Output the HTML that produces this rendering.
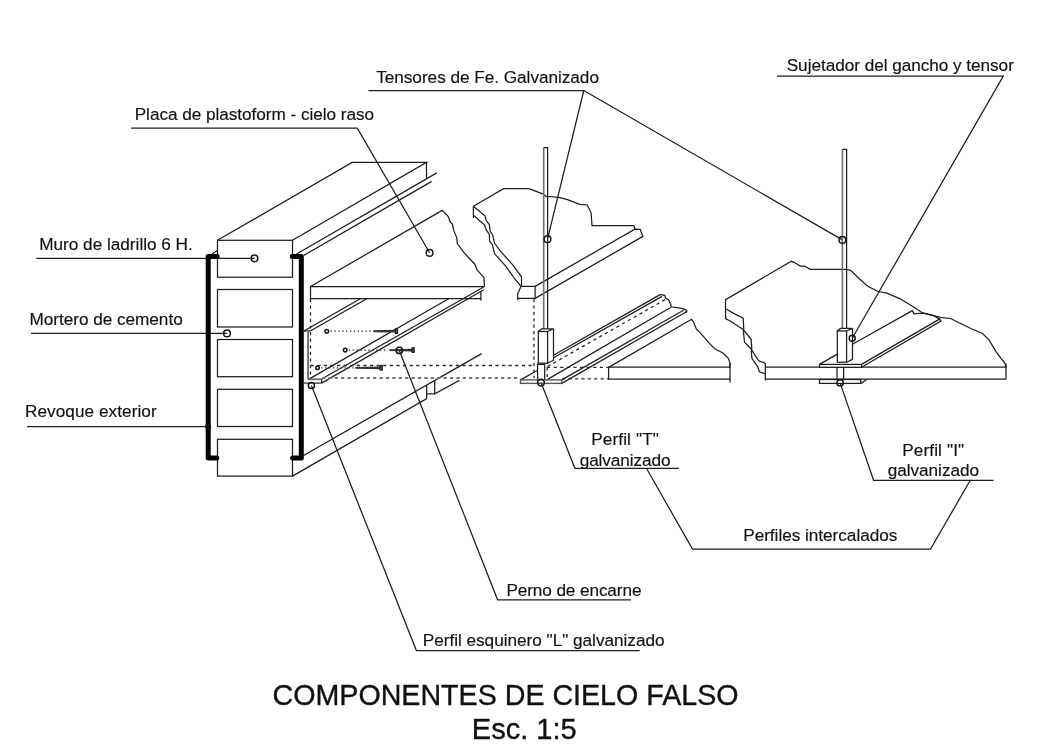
<!DOCTYPE html>
<html><head><meta charset="utf-8"><style>
html,body{margin:0;padding:0;background:#fff;width:1061px;height:746px;overflow:hidden}
svg{display:block;will-change:transform}
text{font-family:"Liberation Sans",sans-serif;fill:#111}
.l{fill:none;stroke:#1e1e1e;stroke-width:1.25;stroke-linejoin:miter}
.g{fill:none;stroke:#6a6a6a;stroke-width:1.8}
.d{fill:none;stroke:#2a2a2a;stroke-width:1.3;stroke-dasharray:3.2 3.4}
.dg{fill:none;stroke:#707070;stroke-width:2;stroke-dasharray:3.2 3.2}
.dt{fill:none;stroke:#333;stroke-width:1.3;stroke-dasharray:1.4 2.5}
.th{fill:none;stroke:#000;stroke-width:5;stroke-linecap:round;stroke-linejoin:round}
.c{fill:none;stroke:#161616;stroke-width:1.5}
</style></head><body>
<svg width="1061" height="746" viewBox="0 0 1061 746">
<rect width="1061" height="746" fill="#fff"/>

<!-- ===== TEXT ===== -->
<g font-size="17.2" stroke="#111" stroke-width="0.15">
<text x="376.2" y="82.7" textLength="222.76">Tensores de Fe. Galvanizado</text>
<text x="786.7" y="70.7" textLength="227.17">Sujetador del gancho y tensor</text>
<text x="134.7" y="120" textLength="239.4">Placa de plastoform - cielo raso</text>
<text x="39.2" y="250" textLength="153.61">Muro de ladrillo 6 H.</text>
<text x="29.4" y="325" textLength="153.3">Mortero de cemento</text>
<text x="24.9" y="417" textLength="131.8">Revoque exterior</text>
<text x="591.2" y="445" textLength="67.64">Perfil "T"</text>
<text x="579.7" y="466" textLength="90.75">galvanizado</text>
<text x="902.2" y="456.2" textLength="61.92">Perfil "I"</text>
<text x="887.7" y="476" textLength="91.35">galvanizado</text>
<text x="743.2" y="540.6" textLength="154.17">Perfiles intercalados</text>
<text x="506.4" y="596" textLength="135.06">Perno de encarne</text>
<text x="422.7" y="646" textLength="241.88">Perfil esquinero "L" galvanizado</text>
</g>
<text transform="translate(272.6,705) scale(0.977,1)" font-size="29.3" stroke="#111" stroke-width="0.35">COMPONENTES DE CIELO FALSO</text>
<text x="471.8" y="738.8" font-size="29" stroke="#111" stroke-width="0.35">Esc. 1:5</text>

<!-- ===== LEADERS ===== -->
<g class="l" stroke-width="1.15">
<polyline points="368.6,90.5 583.8,90.5 547.5,239.2"/>
<line x1="583.8" y1="90.5" x2="842.4" y2="239.9"/>
<polyline points="776.9,76.1 1003.3,76.1 852.2,338.3"/>
<polyline points="131.1,128.1 357.3,128.1 429.6,252.8"/>
<line x1="36.3" y1="258.3" x2="254.5" y2="258.3"/>
<line x1="31" y1="333.4" x2="227" y2="333.4"/>
<line x1="27" y1="426.7" x2="208.3" y2="426.7"/>
<polyline points="541,382.6 574.9,468.3 678.8,468.3"/>
<polyline points="646.4,468.3 692.5,549.1 930.5,549.1 970.3,480.3"/>
<polyline points="840.1,382.9 873.6,480.3 993.5,480.3"/>
<polyline points="399.3,350.4 497.6,599.8 631,599.8"/>
<polyline points="311.4,385.5 416.4,650.5 639.6,650.5"/>
</g>

<!-- ===== WALL ===== -->
<g class="l">
<rect x="217.5" y="240.3" width="75" height="36.9"/>
<rect x="217.5" y="289.5" width="75" height="37.5"/>
<rect x="217.5" y="339.5" width="75" height="37.2"/>
<rect x="217.5" y="389.3" width="75" height="37.2"/>
<rect x="217.5" y="439.3" width="75" height="36.8"/>
<polyline points="217.5,240.3 352.1,162.4 426.5,162.4 292.5,240.3"/>
<line x1="426.5" y1="162.4" x2="426.5" y2="178.5"/>
<line x1="296.1" y1="254.2" x2="436.8" y2="172.9"/>
<line x1="303.6" y1="255.5" x2="431.7" y2="181.4"/>
<line x1="212.1" y1="253.7" x2="217.5" y2="250.6"/>
<line x1="303.1" y1="455.7" x2="481.6" y2="353.6"/>
<polyline points="292.5,476.1 426.7,398.6 426.7,385.5"/>
<polyline points="426.7,393.9 434.7,393.9 434.7,381"/>
<line x1="434.7" y1="393.9" x2="459.6" y2="380.3"/>
</g>
<path class="th" d="M217.2,256.6 H208.2 V458 H216.8"/>
<path class="th" d="M292.2,256.6 H301.3 V458 H292.6"/>
<circle cx="208.1" cy="426.7" r="3" fill="#111"/>

<!-- ===== PLATE (placa) ===== -->
<g class="l">
<polyline points="483.7,286.5 310.5,286.5 310.5,298.7 480.9,298.7"/>
<line x1="480.9" y1="292" x2="480.9" y2="300.5"/>
<polyline points="310.5,286.5 442.2,210.4 448.3,216.5 450.1,221.9 452.5,224.3 453.7,230.4 456.7,237.6 457.3,243.6 464,252.7 474.8,264.2 477.3,270.2 483.9,277.4 484.5,287.1"/>
</g>
<line class="d" x1="310.5" y1="299" x2="310.5" y2="378"/>

<!-- ===== L PROFILE ===== -->
<g class="l">
<polyline points="303.9,331 310.3,331"/>
<line x1="303.9" y1="331" x2="360.3" y2="298.7"/>
<line x1="310.3" y1="331" x2="366.7" y2="298.7"/>
<line x1="308.1" y1="379.6" x2="448.6" y2="298.8"/>
<line x1="321.6" y1="379" x2="483.7" y2="287"/>
<line x1="321.6" y1="383.1" x2="483.7" y2="289.8"/>
<line x1="321.6" y1="379" x2="321.6" y2="383.1"/>
</g>
<g class="g">
<line x1="308.1" y1="332" x2="308.1" y2="379.6"/>
<line x1="304.1" y1="383.1" x2="321.6" y2="383.1"/>
<line x1="308.1" y1="379.3" x2="321.6" y2="379.3"/>
</g>

<!-- dashed horizontals -->
<polyline class="d" points="310.6,365.5 535,365.5"/>
<polyline class="d" points="547,367.3 608.6,367.3"/>
<polyline class="dg" points="322,378 520.6,378"/>
<polyline class="dg" points="562.2,378.8 608.6,378.8"/>

<!-- ===== BOLTS ===== -->
<g>
<circle class="c" cx="326.8" cy="331.2" r="1.8" stroke-width="1.3"/>
<line class="dt" x1="330.4" y1="331.2" x2="372" y2="331.2"/>
<polygon points="373.3,330.3 395.6,329.8 395.6,332.6 373.3,332.2" fill="#262626"/>
<line x1="373.3" y1="331.2" x2="395.6" y2="331.2" stroke="#888" stroke-width="0.6" stroke-dasharray="1.2 1.3"/>
<rect x="395.4" y="328.9" width="2.2" height="4.6" fill="#555" stroke="#1a1a1a" stroke-width="1.1"/>
<circle class="c" cx="345.2" cy="350.1" r="1.8" stroke-width="1.3"/>
<line class="dt" x1="348.8" y1="350.1" x2="388" y2="350.1"/>
<polygon points="389.4,349.2 412.2,348.7 412.2,351.5 389.4,351.1" fill="#262626"/>
<line x1="389.4" y1="350.1" x2="412.2" y2="350.1" stroke="#888" stroke-width="0.6" stroke-dasharray="1.2 1.3"/>
<rect x="412.0" y="347.8" width="2.2" height="4.6" fill="#555" stroke="#1a1a1a" stroke-width="1.1"/>
<circle class="c" cx="317.5" cy="367.8" r="1.8" stroke-width="1.3"/>
<line class="dt" x1="321.1" y1="367.8" x2="354" y2="367.8"/>
<polygon points="355.4,366.9 380.3,366.4 380.3,369.2 355.4,368.8" fill="#262626"/>
<line x1="355.4" y1="367.8" x2="380.3" y2="367.8" stroke="#888" stroke-width="0.6" stroke-dasharray="1.2 1.3"/>
<rect x="380.1" y="365.5" width="2.2" height="4.6" fill="#555" stroke="#1a1a1a" stroke-width="1.1"/>
</g>

<!-- ===== MIDDLE SLAB ===== -->
<g class="l">
<polyline points="521.3,286.4 535.1,286.4 535.1,298.4 517.7,298.4"/>
<polyline points="535.1,286.4 634.9,229.1 640.1,229.3 642.9,236.4 535.1,298.4"/>
<polyline points="473.4,206.3 503.6,188.7 528.1,188.7 531,189.4 543.2,194.1 546,196.5 549.8,196.5 560,197.7 567.5,199.6 579.8,204.3 587.3,205 591.1,212.8 592,225.5 634,225.5 634.9,229.1"/>
<polyline points="473.4,206.3 473.4,218"/>
<polyline points="473.4,206.3 485.2,216.1 486.1,220.3 489.4,224.5 490.1,231.1 492.7,234.9 494.6,243.3 500.2,250.8 512.5,264.7 521.5,276.8 521.5,286.4"/>
<polyline points="473.4,215.2 484.7,225 486.1,229.7 489.4,234.4 489.6,241 492.5,245 494.6,253.8 505.5,265.8 513.9,277.7 521,286.4 517.7,293.7 517.7,300.3"/>
</g>
<line class="dg" x1="533.9" y1="299" x2="533.9" y2="378" stroke-width="1.6"/>

<!-- ===== T PROFILE ===== -->
<g class="l">
<line x1="543.7" y1="329.1" x2="543.7" y2="147.6" stroke="#6e6e6e" stroke-width="1.6"/><polyline points="543.7,147.6 547.6,147.6 547.6,329.1"/>
<rect x="538.3" y="331.5" width="9.3" height="31.7" fill="#fff"/>
<polyline points="538.3,331.5 541.7,328.8 553.5,328.8 547.6,331.5"/>
<polyline points="553.5,328.8 553.5,360.2 547.6,363.2"/>
<polyline points="537.6,379.9 537.6,364.3 544.7,364.3 544.7,379.9"/>
<line x1="520.5" y1="379.9" x2="537.6" y2="370.3"/>
<line x1="561.8" y1="379.9" x2="683.5" y2="310.2"/>
<line x1="561.8" y1="383.4" x2="686.4" y2="311.7"/>
<line x1="547.6" y1="379.4" x2="671" y2="307.3"/>
<line x1="553.5" y1="355.3" x2="660.1" y2="294.6"/>
<line x1="553.5" y1="357.8" x2="662" y2="296.4"/>
<polyline points="660.1,294.6 664.8,295.4 665.5,298 668.8,300 670.2,303.4 671.5,306.8 680.2,308.1 684.9,309.4 686.9,310.8 686.2,312.8"/>
</g>
<rect x="520.5" y="379.9" width="41.3" height="3.5" fill="none" stroke="#555" stroke-width="1.4"/>
<line class="d" x1="547.6" y1="366.5" x2="665.8" y2="299.2"/>
<line class="d" x1="547.2" y1="367.3" x2="547.2" y2="379.4" stroke-dasharray="2.5 2"/>
<circle class="c" cx="547.5" cy="239.2" r="3.35"/>
<circle class="c" cx="541" cy="382.6" r="3.3"/>

<!-- ===== T-SIDE SLAB ===== -->
<g class="l">
<polyline points="730,367.2 608.6,367.2 608.6,379.2 730,379.2"/>
<line x1="730" y1="363" x2="730" y2="382.5"/>
<polyline points="608.6,367.4 691.6,319.3 693.6,322.2 696.3,328.9 700.3,332.9 709.7,343.6 715,349 723,353 728.4,358.4 730,363.1 730,367.4"/>
</g>

<!-- ===== RIGHT SLAB + I PROFILE ===== -->
<g class="l">
<polyline points="765.3,363.1 765.3,380.5"/><polyline points="765.3,379.2 1006,379.2 1006,363.6"/>
<line x1="765.3" y1="367.1" x2="1006" y2="367.1"/>
<polyline points="725.5,308.8 725.5,299.7 791.3,261.3 794.1,262.3 800.3,266 804.5,266 810.2,269.3 846,269.3 850.7,270.3 859.2,278.7 867.7,286.3 878,291.5 886.9,293.2 900.1,298.8 914.1,307.2 922.6,312.9 941.4,317.6 950.7,318.5 960.1,323.2 971.4,328.8 982.6,333.5 989.2,340.1 995.8,351.4 1001.4,358.9 1005.2,363.6 1006,367.3"/>
<polyline points="725.5,308.8 735.1,314.1 743.2,318.2 743.8,330.2 751.2,339.6 751.9,350.3 757.9,359.7 759.3,361.1 765.3,363.1"/>
<polyline points="725.5,308.8 725.7,318.8 729.8,320.8 743.2,329.6 744.5,342.3 751.2,349 751.9,358.4 757.9,367.1 759.3,371.8 765.3,373.8"/>
<line x1="842.4" y1="328.4" x2="842.4" y2="149.4" stroke="#6e6e6e" stroke-width="1.6"/><polyline points="842.4,149.4 846.6,149.4 846.6,328.4"/>
<polyline points="819.5,364.4 837.3,354.1"/>
<polyline points="852.5,344.2 912.3,310.6 914.1,313.8 923.5,313.2 933.8,315.7 939.5,319.1 941,321 861.5,367.3"/>
<polyline points="861.5,364.4 939.5,319.1"/>
<rect x="819.5" y="364.4" width="42" height="2.9" fill="#fff"/>
<rect x="837.3" y="331" width="9.3" height="31.2" fill="#fff"/>
<polyline points="837.3,331 840.5,328.4 852.5,328.4 846.6,331"/>
<polyline points="852.5,328.4 852.5,359.4 846.6,362.2"/>
<line x1="837" y1="367.3" x2="837" y2="379.4"/>
<line x1="843.6" y1="367.3" x2="843.6" y2="379.4"/>
<rect x="819.5" y="379.5" width="41.3" height="3.9" fill="#fff"/>
<line x1="860.8" y1="383.4" x2="866.7" y2="379.5"/>
</g>
<circle class="c" cx="842.4" cy="239.9" r="3.35"/>
<circle class="c" cx="852.2" cy="338.3" r="3"/>
<circle class="c" cx="840.1" cy="382.9" r="3.1"/>

<!-- leader circles -->
<circle class="c" cx="429.6" cy="252.9" r="3.35"/>
<circle class="c" cx="254.5" cy="258.3" r="3.35"/>
<circle class="c" cx="227" cy="333.4" r="3.35"/>
<circle class="c" cx="399.3" cy="350.4" r="3.2"/>
<circle class="c" cx="311.4" cy="385.5" r="3.1"/>
</svg>
</body></html>
